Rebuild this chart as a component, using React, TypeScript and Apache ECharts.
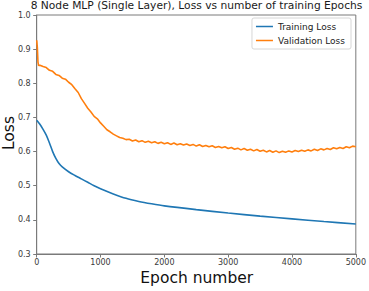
import React, { useEffect, useRef } from "react";
import * as echarts from "echarts";

// Training loss, smooth curve
const trainEpochs = [0, 50, 100, 150, 200, 250, 300, 350, 400, 500, 600, 700, 800, 900, 1000, 1200, 1400, 1600, 1800, 2000, 2500, 3000, 3500, 4000, 4500, 5000];
const trainLoss = [0.692, 0.68, 0.665, 0.648, 0.625, 0.6, 0.58, 0.565, 0.555, 0.541, 0.53, 0.52, 0.51, 0.5, 0.491, 0.476, 0.463, 0.454, 0.447, 0.441, 0.43, 0.42, 0.411, 0.403, 0.395, 0.388];

// Validation loss: first few epochs, then every 50 epochs from 50 to 5000
const valEarlyEpochs = [0, 10, 20, 30];
const valEarlyLoss = [0.926, 0.905, 0.862, 0.852];
const valStep = 50;
const valLoss = [
  0.853, 0.849, 0.846, 0.838, 0.835, 0.826, 0.823, 0.815, 0.812, 0.803,
  0.796, 0.784, 0.773, 0.755, 0.741, 0.727, 0.716, 0.703, 0.696, 0.684,
  0.674, 0.664, 0.658, 0.651, 0.646, 0.641, 0.639, 0.635, 0.636, 0.631,
  0.634, 0.629, 0.632, 0.627, 0.63, 0.626, 0.629, 0.624, 0.627, 0.623,
  0.626, 0.621, 0.625, 0.62, 0.623, 0.619, 0.622, 0.618, 0.621, 0.616,
  0.62, 0.615, 0.618, 0.614, 0.617, 0.612, 0.615, 0.611, 0.614, 0.609,
  0.612, 0.607, 0.61, 0.605, 0.609, 0.604, 0.607, 0.602, 0.606, 0.601,
  0.604, 0.599, 0.603, 0.598, 0.602, 0.597, 0.601, 0.598, 0.602, 0.599,
  0.603, 0.6, 0.604, 0.601, 0.605, 0.602, 0.607, 0.603, 0.608, 0.605,
  0.609, 0.606, 0.611, 0.608, 0.612, 0.609, 0.614, 0.611, 0.616, 0.614,
];

const xTicks = [0, 1000, 2000, 3000, 4000, 5000];
const yTicks = [0.3, 0.4, 0.5, 0.6, 0.7, 0.8, 0.9, 1.0];

const FONT = "DejaVu Sans";

export default function App() {
  const ref = useRef<HTMLDivElement>(null);

  useEffect(() => {
    if (!ref.current) return;
    const chart = echarts.init(ref.current, undefined, { renderer: "svg" });

    const trainData = trainEpochs.map((e, i) => [e, trainLoss[i]]);
    const valData = [
      ...valEarlyEpochs.map((e, i) => [e, valEarlyLoss[i]]),
      ...valLoss.map((v, i) => [(i + 1) * valStep, v]),
    ];

    const axisColor = "#7a7a7a";
    const labelColor = "#3a3a3a";

    chart.setOption({
      animation: false,
      backgroundColor: "#ffffff",
      graphic: [
        {
          type: "text",
          x: 196.5,
          y: 5,
          style: {
            text: "8 Node MLP (Single Layer), Loss vs number of training Epochs",
            fontFamily: FONT,
            fontSize: 10.7,
            fill: "#1a1a1a",
            textAlign: "center",
            textVerticalAlign: "middle",
          },
        },
        {
          type: "text",
          x: 196.7,
          y: 278,
          style: {
            text: "Epoch number",
            fontFamily: FONT,
            fontSize: 15.5,
            fill: "#111",
            textAlign: "center",
            textVerticalAlign: "middle",
          },
        },
        {
          type: "text",
          x: 9,
          y: 133,
          rotation: Math.PI / 2,
          style: {
            text: "Loss",
            fontFamily: FONT,
            fontSize: 15.5,
            fill: "#111",
            textAlign: "center",
            textVerticalAlign: "middle",
          },
        },
      ],
      legend: {
        orient: "vertical",
        right: 18,
        top: 18,
        itemWidth: 17,
        itemHeight: 1.5,
        itemGap: 5,
        icon: "rect",
        padding: [4, 6, 4, 4],
        backgroundColor: "#ffffff",
        borderColor: "#d6d6d6",
        borderWidth: 1,
        borderRadius: 2,
        textStyle: { fontFamily: FONT, fontSize: 9, color: "#222" },
        data: ["Training Loss", "Validation Loss"],
      },
      grid: {
        left: 36.7,
        right: 12.3,
        top: 15,
        bottom: 37,
        show: true,
        borderColor: axisColor,
        borderWidth: 1,
        backgroundColor: "transparent",
      },
      xAxis: {
        type: "value",
        min: 0,
        max: 5000,
        interval: 1000,
        axisLine: { show: true, lineStyle: { color: axisColor } },
        axisTick: { show: true, length: 3.5, lineStyle: { color: axisColor } },
        splitLine: { show: false },
        axisLabel: {
          fontFamily: FONT,
          fontSize: 8,
          color: labelColor,
          margin: 4,
          formatter: (v: number) => (xTicks.includes(v) ? String(v) : ""),
        },
      },
      yAxis: {
        type: "value",
        min: 0.3,
        max: 1.0,
        interval: 0.1,
        axisLine: { show: true, lineStyle: { color: axisColor } },
        axisTick: { show: true, length: 3.5, lineStyle: { color: axisColor } },
        splitLine: { show: false },
        axisLabel: {
          fontFamily: FONT,
          fontSize: 8,
          color: labelColor,
          margin: 6,
          formatter: (v: number) => {
            const t = yTicks.find((y) => Math.abs(y - v) < 1e-6);
            return t !== undefined ? t.toFixed(1) : "";
          },
        },
      },
      series: [
        {
          name: "Training Loss",
          type: "line",
          data: trainData,
          showSymbol: false,
          smooth: 0.3,
          lineStyle: { color: "#1f77b4", width: 1.6 },
          itemStyle: { color: "#1f77b4" },
        },
        {
          name: "Validation Loss",
          type: "line",
          data: valData,
          showSymbol: false,
          lineStyle: { color: "#ff7f0e", width: 1.6 },
          itemStyle: { color: "#ff7f0e" },
        },
      ],
    });

    return () => chart.dispose();
  }, []);

  return <div ref={ref} style={{ width: 369, height: 291, position: "absolute", left: 0, top: 0 }} />;
}
